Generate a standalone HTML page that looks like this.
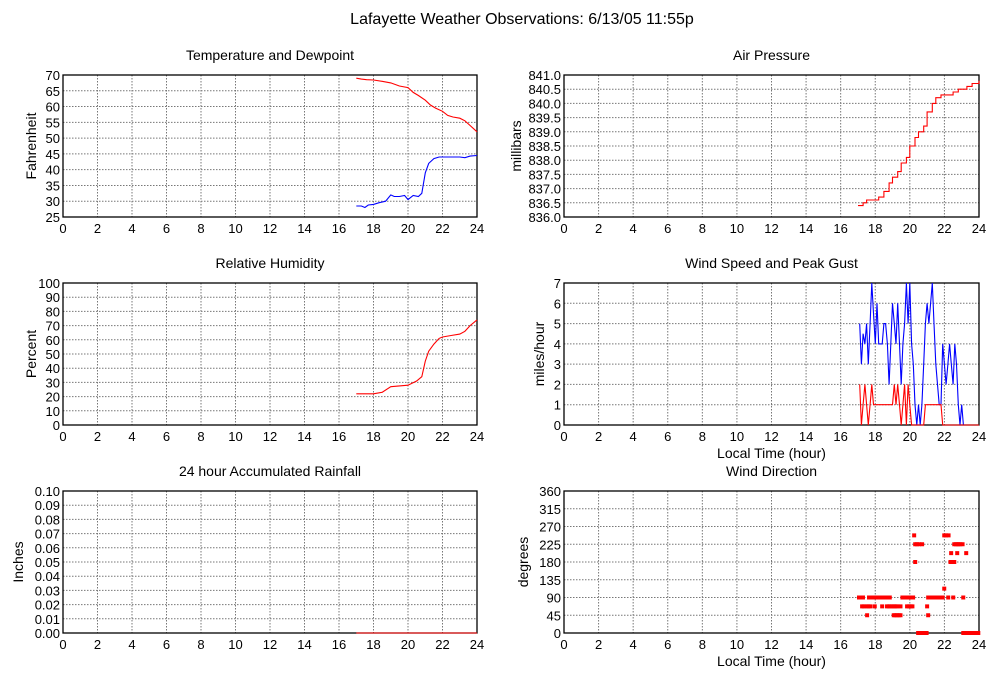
<!DOCTYPE html>
<html><head><meta charset="utf-8"><style>
html,body{margin:0;padding:0;background:#fff;}
svg{display:block;font-family:"Liberation Sans",sans-serif;}
</style></head><body>
<svg id="c" width="1000" height="680" viewBox="0 0 1000 680">
<text x="522" y="24" text-anchor="middle" font-size="16">Lafayette Weather Observations: 6/13/05 11:55p</text>
</svg>
<script>
// ---- data ----
const tempHours=[17,17.3,17.6,18,18.5,19,19.5,20,20.3,20.6,21,21.3,21.6,22,22.3,22.6,23,23.3,23.6,24];
const tempVals=[69,68.7,68.5,68.4,68,67.5,66.5,66,64.5,63.5,62,60.5,59.5,58.5,57.2,56.7,56.3,55.5,54,52];
const dewHours=[17,17.3,17.5,17.7,18,18.3,18.7,19,19.2,19.5,19.8,20,20.3,20.6,20.8,21,21.2,21.5,21.8,22,22.5,23,23.3,23.6,24];
const dewVals=[28.5,28.5,28,28.8,29,29.5,30,32,31.5,31.5,31.8,30.5,31.8,31.5,32.5,39,42,43.5,44,44,44,44,43.8,44.3,44.5];
const presHours=[17,17.3,17.5,18,18.2,18.5,18.8,19,19.3,19.5,19.8,20,20.3,20.5,20.8,21,21.3,21.5,21.8,22,22.5,22.8,23,23.3,23.6,24];
const presVals=[836.4,836.5,836.6,836.6,836.7,836.9,837.2,837.4,837.6,837.9,838.1,838.5,838.8,839.0,839.2,839.7,840.0,840.2,840.3,840.3,840.4,840.5,840.5,840.6,840.7,840.8];
const rhHours=[17,17.5,18,18.5,19,19.5,20,20.5,20.8,21,21.2,21.5,21.8,22,22.5,23,23.3,23.6,24];
const rhVals=[22,22,22,23,27,27.5,28,31,34,45,52,57,61,62,63,64,66,70,74];
const windHours=[17.1,17.2,17.3,17.4,17.5,17.6,17.7,17.8,17.9,18,18.1,18.2,18.4,18.5,18.6,18.7,18.8,18.9,19,19.1,19.2,19.3,19.4,19.5,19.6,19.7,19.8,19.9,20,20.1,20.2,20.3,20.4,20.5,20.6,20.7,20.8,20.9,21,21.1,21.2,21.3,21.4,21.5,21.6,21.7,21.8,21.9,22,22.1,22.2,22.3,22.4,22.5,22.6,22.7,22.8,22.9,23,23.1,23.2,24];
const gustVals=[5,3,4.5,4,5,3,5,7,5.5,4,6,4,4,5,5,4,2,4,6,5,4,6,4,2,4,5,7,5,7,4,3,1,0,1,0,1,3,5,6,5,6,7,5,3,2,1,1,4,3,2,3,4,3,2,4,3,1,0,1,0,0,0];
const speedVals=[2,0,1,2,1,0,1,2,1,1,1,1,1,1,1,1,1,1,1,2,1,2,1,0,1,2,0,2,1,0,0,0,0,0,0,0,0,1,1,1,1,1,1,1,1,1,1,0,0,0,0,0,0,0,0,0,0,0,0,0,0,0];
const rainHours=[17,24];
const rainVals=[0,0];
const dirHours=[17.06,17.15,17.29,17.64,17.74,17.84,17.94,18.04,18.16,18.26,18.36,18.46,18.56,18.68,18.84,19.57,19.67,19.77,19.88,19.98,20.08,20.19,21.06,21.16,21.26,21.36,21.47,21.57,21.67,21.77,21.9,22.22,22.51,23.09,
 17.24,17.34,17.49,17.6,17.72,17.97,18.4,18.68,18.78,18.88,18.99,19.09,19.18,19.28,19.46,19.84,19.94,20.05,20.15,21.0,
 17.53,19.07,19.16,19.26,19.36,19.46,21.06,
 20.48,20.58,20.68,20.78,20.97,23.09,23.19,23.29,23.39,23.48,23.58,23.68,23.78,23.86,23.96,
 20.31,22.35,22.45,22.57,
 22.39,22.74,23.26,
 20.31,20.41,20.54,20.71,22.57,22.67,22.77,22.82,22.92,23.05,
 20.25,21.99,22.09,22.24,
 21.99];
const dirVals=[90,90,90,90,90,90,90,90,90,90,90,90,90,90,90,90,90,90,90,90,90,90,90,90,90,90,90,90,90,90,90,90,90,90,
 67.5,67.5,67.5,67.5,67.5,67.5,67.5,67.5,67.5,67.5,67.5,67.5,67.5,67.5,67.5,67.5,67.5,67.5,67.5,67.5,
 45,45,45,45,45,45,45,
 0,0,0,0,0,0,0,0,0,0,0,0,0,0,0,
 180,180,180,180,
 202.5,202.5,202.5,
 225,225,225,225,225,225,225,225,225,225,
 247.5,247.5,247.5,247.5,
 112.5];
const xTicks=[0,2,4,6,8,10,12,14,16,18,20,22,24];
const tempTicks=[25,30,35,40,45,50,55,60,65,70];
const presTicks=[836.0,836.5,837.0,837.5,838.0,838.5,839.0,839.5,840.0,840.5,841.0];
const rhTicks=[0,10,20,30,40,50,60,70,80,90,100];
const windTicks=[0,1,2,3,4,5,6,7];
const rainTicks=[0,0.01,0.02,0.03,0.04,0.05,0.06,0.07,0.08,0.09,0.10];
const dirTicks=[0,45,90,135,180,225,270,315,360];

const NS="http://www.w3.org/2000/svg";
const svg=document.getElementById('c');
function mk(tag,attrs,parent){const e=document.createElementNS(NS,tag);for(const k in attrs)e.setAttribute(k,attrs[k]);(parent||svg).appendChild(e);return e;}

function panel(o){
  const g=mk('g',{});
  
  
  const sx=h=>o.x0+(h/24)*(o.x1-o.x0);
  const sy=v=>o.y1-(v-o.min)/(o.max-o.min)*(o.y1-o.y0);
  const t=mk('text',{x:(o.x0+o.x1)/2,y:o.y0-15,'text-anchor':'middle','font-size':14},g);
  t.textContent=o.title;
  
  
  xTicks.forEach(h=>{
    if(h>0&&h<24){const l=mk('line',{x1:sx(h),x2:sx(h),y1:o.y0,y2:o.y1,stroke:'#777','stroke-dasharray':'1.5,1.5','stroke-width':1},g);
    }
    const tx=mk('text',{x:sx(h),y:o.y1+16,'text-anchor':'middle','font-size':13},g);
    tx.textContent=h;
    
    
  });
  o.ticks.forEach(v=>{
    if(v>o.min&&v<o.max){const l=mk('line',{x1:o.x0,x2:o.x1,y1:sy(v),y2:sy(v),stroke:'#777','stroke-dasharray':'1.5,1.5','stroke-width':1},g);
    }
    const ty=mk('text',{x:o.x0-3,y:sy(v)+5,'text-anchor':'end','font-size':13},g);
    ty.textContent=o.fmt?o.fmt(v):v;
    
    
  });
  const r=mk('rect',{x:o.x0,y:o.y0,width:o.x1-o.x0,height:o.y1-o.y0,fill:'none',stroke:'#000','stroke-width':1.3},g);
  
  
  const cy=(o.y0+o.y1)/2, lx=o.x0-o.ylabOff;
  const yl=mk('text',{x:lx,y:cy,'text-anchor':'middle','font-size':14,transform:`rotate(-90 ${lx} ${cy})`},g);
  yl.textContent=o.ylab;
  
  
  if(o.xlab){const xl=mk('text',{x:(o.x0+o.x1)/2,y:o.y1+33,'text-anchor':'middle','font-size':14},g);
    xl.textContent='Local Time (hour)';
    
    }
  (o.series||[]).forEach(s=>{
    let d='';
    s.h.forEach((h,i)=>{
      if(s.step&&i>0) d+=`L${sx(h).toFixed(1)},${sy(s.v[i-1]).toFixed(1)}`;
      d+=(i?'L':'M')+sx(h).toFixed(1)+','+sy(s.v[i]).toFixed(1);
    });
    const p=mk('path',{d:d,fill:'none',stroke:s.color,'stroke-width':1.1},g);
    
    
  });
  if(o.points){o.points.h.forEach((h,i)=>{
    const q=mk('rect',{x:sx(h)-2,y:sy(o.points.v[i])-2,width:4,height:4,fill:'#f00'},g);
    
    
  });}
}
const L0=63,L1=477,R0=564,R1=979;
panel({name:'temperature-panel',title:'Temperature and Dewpoint',x0:L0,x1:L1,y0:75,y1:217,min:25,max:70,ticks:tempTicks,ylab:'Fahrenheit',ylabOff:27,
  series:[{h:tempHours,v:tempVals,color:'#f00',name:'temperature-line'},{h:dewHours,v:dewVals,color:'#00f',name:'dewpoint-line'}]});
panel({name:'pressure-panel',title:'Air Pressure',x0:R0,x1:R1,y0:75,y1:217,min:836,max:841,ticks:presTicks,ylab:'millibars',ylabOff:43,fmt:v=>v.toFixed(1),
  series:[{h:presHours,v:presVals,color:'#f00',name:'pressure-line',step:true}]});
panel({name:'humidity-panel',title:'Relative Humidity',x0:L0,x1:L1,y0:283,y1:425,min:0,max:100,ticks:rhTicks,ylab:'Percent',ylabOff:27,
  series:[{h:rhHours,v:rhVals,color:'#f00',name:'humidity-line'}]});
panel({name:'wind-speed-panel',title:'Wind Speed and Peak Gust',x0:R0,x1:R1,y0:283,y1:425,min:0,max:7,ticks:windTicks,ylab:'miles/hour',ylabOff:20,xlab:true,
  series:[{h:windHours,v:gustVals,color:'#00f',name:'gust-line'},{h:windHours,v:speedVals,color:'#f00',name:'speed-line'}]});
panel({name:'rainfall-panel',title:'24 hour Accumulated Rainfall',x0:L0,x1:L1,y0:491,y1:633,min:0,max:0.1,ticks:rainTicks,ylab:'Inches',ylabOff:40,fmt:v=>v.toFixed(2),
  series:[{h:rainHours,v:rainVals,color:'#f00',name:'rainfall-line'}]});
panel({name:'wind-direction-panel',title:'Wind Direction',x0:R0,x1:R1,y0:491,y1:633,min:0,max:360,ticks:dirTicks,ylab:'degrees',ylabOff:36,xlab:true,
  points:{h:dirHours,v:dirVals}});
</script>
</body></html>
